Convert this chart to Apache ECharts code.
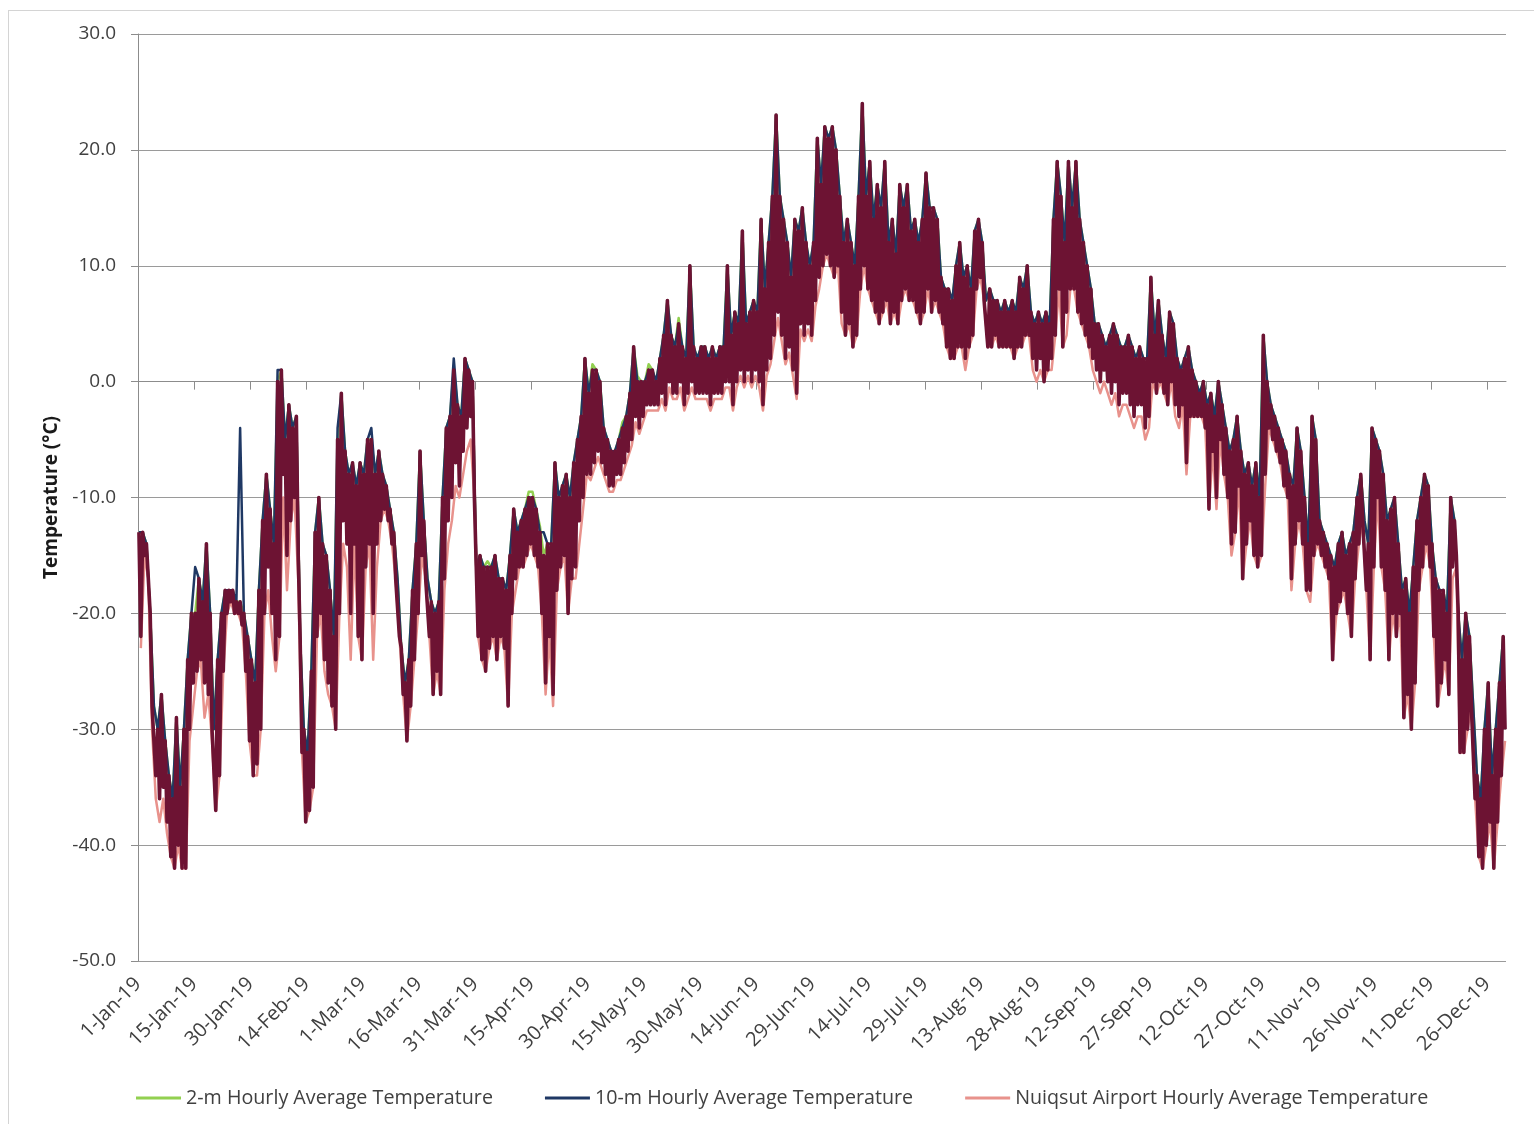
<!DOCTYPE html>
<html>
<head>
<meta charset="utf-8">
<title>Hourly Average Temperature 2019</title>
<script src="https://cdn.jsdelivr.net/npm/echarts@6.0.0/dist/echarts.min.js"></script>
<style>
  html, body { margin: 0; padding: 0; background: #fff; }
  #main { position: absolute; left: 0; top: 0; width: 1534px; height: 1124px; }
  #frame { position: absolute; left: 8px; top: 10px; width: 1540px; height: 1120px; border: 1px solid #d4d4d4; box-sizing: border-box; }
</style>
</head>
<body>
<div id="frame"></div>
<div id="main"></div>
<script>
// Axis tick labels, one every 15 days from the first day
const dateLabels = [
  "1-Jan-19", "15-Jan-19", "30-Jan-19", "14-Feb-19", "1-Mar-19", "16-Mar-19",
  "31-Mar-19", "15-Apr-19", "30-Apr-19", "15-May-19", "30-May-19", "14-Jun-19",
  "29-Jun-19", "14-Jul-19", "29-Jul-19", "13-Aug-19", "28-Aug-19", "12-Sep-19",
  "27-Sep-19", "12-Oct-19", "27-Oct-19", "11-Nov-19", "26-Nov-19", "11-Dec-19",
  "26-Dec-19"
];

// Dark red trace drawn on top (no legend entry): daily upper and lower values, °C
const bandHigh = [
  -13,-13,-14,-20,-28,-30,-27,-31,-34,-36,-29,-35,-30,-24,-20,-20,-17,-19,-14,-20,-30,-24,-20,-18,-18,-18,-19,-19,-20,-22,-24,
  -26,-18,-12,-8,-11,-14,0,1,-5,-2,-4,-3,-22,-30,-32,-25,-13,-10,-14,-15,-18,-22,-5,-1,-6,-8,-7,-9,
  -7,-8,-5,-5,-8,-6,-8,-9,-11,-13,-17,-23,-26,-24,-18,-14,-6,-12,-17,-19,-20,-19,-10,-4,-3,1,-2,-3,2,1,0,
  -16,-15,-16,-16,-16,-15,-17,-17,-18,-15,-11,-13,-12,-11,-10,-10,-11,-13,-15,-14,-14,-7,-10,-9,-8,-10,-7,-5,-3,2,
  -1,1,1,0,-4,-5,-6,-6,-5,-4,-3,-1,3,0,0,0,1,1,0,2,4,7,4,3,5,3,2,10,3,2,3,
  3,2,3,2,3,3,10,4,6,5,13,5,6,7,6,14,8,12,16,23,16,14,12,9,14,13,15,12,10,12,
  21,17,22,21,22,20,16,12,14,12,10,16,24,16,19,14,17,15,19,12,14,11,17,15,17,13,14,12,14,18,15,
  15,14,9,8,8,7,10,12,9,10,8,13,14,12,7,8,7,7,6,7,6,7,6,9,8,10,6,5,6,5,6,
  5,14,19,16,12,19,15,19,14,12,10,8,5,5,4,3,4,5,4,3,3,4,3,2,3,2,2,9,4,7,
  4,2,6,5,2,1,2,3,1,0,-1,0,-2,-1,-3,0,-2,-4,-6,-5,-3,-6,-8,-7,-9,-7,-10,4,0,-2,-3,
  -4,-5,-6,-8,-9,-4,-6,-10,-14,-3,-5,-12,-13,-14,-15,-16,-14,-13,-15,-14,-13,-10,-8,-12,-14,-4,-5,-6,-8,-12,
  -11,-10,-14,-18,-17,-20,-16,-12,-10,-8,-9,-14,-17,-18,-18,-20,-10,-12,-20,-24,-20,-22,-28,-34,-36,-30,-26,-34,-30,-26,-22
];
const bandLow = [
  -22,-15,-17,-28,-34,-36,-35,-38,-41,-42,-40,-42,-42,-30,-26,-25,-24,-26,-27,-30,-37,-34,-25,-20,-19,-20,-20,-21,-25,-31,-34,
  -33,-30,-20,-16,-20,-24,-22,-8,-15,-12,-10,-15,-32,-38,-37,-35,-22,-20,-24,-26,-28,-30,-20,-12,-14,-20,-14,-22,
  -24,-16,-14,-20,-14,-12,-11,-12,-14,-17,-22,-27,-31,-28,-24,-20,-15,-17,-22,-27,-25,-27,-17,-12,-10,-7,-9,-6,-4,-3,-10,
  -22,-24,-25,-23,-22,-24,-22,-23,-28,-20,-17,-16,-16,-15,-14,-15,-16,-20,-26,-22,-27,-18,-16,-15,-20,-17,-16,-12,-10,-8,
  -8,-7,-6,-7,-8,-9,-9,-8,-8,-7,-6,-5,-3,-4,-3,-2,-2,-2,-2,-1,-2,0,-1,-1,0,-2,-1,0,-1,-1,-1,
  -1,-2,-1,-1,-1,0,0,-2,0,1,0,1,0,1,0,-2,1,2,4,6,4,2,3,1,-1,5,4,5,4,7,
  9,10,11,10,9,10,6,4,5,3,4,8,10,8,7,6,5,6,7,5,6,5,7,8,7,7,6,5,6,8,6,
  7,6,5,3,2,2,3,3,2,3,4,8,9,7,3,3,4,3,3,3,3,2,3,3,4,4,2,1,2,0,1,
  2,4,8,3,6,8,8,6,5,4,3,2,1,0,1,0,-1,0,-2,-1,-1,-2,-3,-2,-2,-4,-3,0,-1,0,
  -1,-2,0,-2,-3,-2,-7,-3,-3,-3,-3,-4,-11,-6,-10,-5,-8,-10,-14,-13,-9,-17,-14,-12,-15,-16,-15,-8,-4,-5,-6,
  -7,-9,-10,-17,-14,-12,-14,-18,-18,-15,-14,-15,-16,-17,-24,-20,-19,-18,-20,-22,-17,-14,-12,-18,-24,-16,-10,-16,-18,-24,
  -20,-22,-20,-29,-27,-30,-26,-18,-16,-14,-16,-22,-28,-26,-24,-27,-16,-15,-32,-32,-30,-28,-36,-41,-42,-40,-38,-42,-38,-34,-30
];

// 2-m Hourly Average Temperature, one value per day (daily upper), °C
const twoM = [
  -13,-13,-14,-20,-28,-30,-27,-31,-34,-36,-29,-35,-30,-24,-20,-20,-17,-19,-14,-20,-30,-24,-20,-18,-18,-18,-19,-19,-20,-22,-24,
  -26,-18,-12,-8,-11,-14,0,1,-5,-2,-4,-3,-22,-30,-32,-25,-13,-10,-14,-15,-18,-22,-5,-1,-6,-8,-7,-9,
  -7,-8,-5,-5,-8,-6,-8,-9,-11,-13,-17,-23,-26,-24,-18,-14,-6,-12,-17,-19,-20,-19,-10,-4,-3,1,-2,-3,2,1,0,
  -16,-15,-16,-15.5,-16,-15,-17,-17,-18,-15,-11,-13,-12,-11,-9.5,-9.5,-11,-12.5,-15,-14,-14,-7,-10,-9,-8,-10,-7,-5,-3,2,
  -1,1.5,1,0,-4,-5,-6,-6,-5,-3.5,-3,-1,3,0.5,0,0,1.5,1,0,2,4,7,4,3,5.5,3,2,10,3,2,3,
  3,2,3,2,3,3,10,4,6,5,13,5,6,7,6,14,8,12,16,23,16,14,12,9,14,13,15,12,10,12,
  21,17,22,21,22,20,16,12,14,12,10,16,24,16,19,14,17,15,19,12,14,11,17,15,17,13,14,12,14,18,15,
  15,14,9,8,8,7,10,12,9,10,8,13,14,12,7,8,7,7,6,7,6,7,6,9,8,10,6,5,6,5,6,
  5,14,19,16,12,19,15,19,14,12,10,8,5,5,4,3,4,5,4,3,3,4,3,2,3,2,2,9,4,7,
  4,2,6,5,2,1,2,3,1,0,-1,0,-2,-1,-3,0,-2,-4,-6,-5,-3,-6,-8,-7,-9,-7,-10,4,0,-2,-3,
  -4,-5,-6,-8,-9,-4,-6,-10,-14,-3,-5,-12,-13,-14,-15,-16,-14,-13,-15,-14,-13,-10,-8,-12,-14,-4,-5,-6,-8,-12,
  -11,-10,-14,-18,-17,-20,-16,-12,-10,-8,-9,-14,-17,-18,-18,-20,-10,-12,-20,-24,-20,-22,-28,-34,-36,-30,-26,-34,-30,-26,-22
];

// 10-m Hourly Average Temperature, one value per day (daily upper), °C
const tenM = [
  -13,-13,-14,-20,-28,-30,-27,-31,-34,-36,-29,-35,-30,-24,-20,-16,-17,-19,-14,-20,-30,-24,-20,-18,-18,-18,-19,-4,-20,-22,-24,
  -26,-18,-12,-8,-11,-14,1,1,-5,-2,-4,-3,-22,-30,-32,-25,-13,-10,-14,-15,-18,-22,-4,-1,-6,-8,-7,-9,
  -7,-8,-5,-4,-8,-6,-8,-9,-11,-13,-17,-23,-26,-24,-18,-14,-6,-12,-17,-19,-20,-19,-10,-4,-3,2,-2,-3,2,1,0,
  -16,-15,-16,-16,-16,-15,-17,-17,-18,-15,-11,-13,-12,-11,-10,-10,-11,-13,-13,-14,-14,-7,-10,-9,-8,-10,-7,-5,-3,2,
  -1,1,1,0,-4,-5,-6,-6,-5,-4,-3,-1,3,0,0,0,1,1,0,2,4,7,4,3,5,3,2,10,3,2,3,
  3,2,3,2,3,3,10,4,6,5,13,5,6,7,6,14,8,12,16,23,16,14,12,9,14,13,15,12,10,12,
  21,17,22,21,22,20,16,12,14,12,10,16,24,16,19,14,17,15,19,12,14,11,17,15,17,13,14,12,14,18,15,
  15,14,9,8,8,7,10,12,9,10,8,13,14,12,7,8,7,7,6,7,6,7,6,9,8,10,6,5,6,5,6,
  5,14,19,16,12,19,15,19,14,12,10,8,5,5,4,3,4,5,4,3,3,4,3,2,3,2,2,9,4,7,
  4,2,6,5,2,1,2,3,1,0,-1,0,-2,-1,-3,0,-2,-4,-6,-5,-3,-6,-8,-7,-9,-7,-10,4,0,-2,-3,
  -4,-5,-6,-8,-9,-4,-6,-10,-14,-3,-5,-12,-13,-14,-15,-16,-14,-13,-15,-14,-13,-10,-8,-12,-14,-4,-5,-6,-8,-12,
  -11,-10,-14,-18,-17,-20,-16,-12,-10,-8,-9,-14,-17,-18,-18,-20,-10,-12,-20,-24,-20,-22,-28,-34,-36,-30,-26,-34,-30,-26,-22
];

// Nuiqsut Airport Hourly Average Temperature, one value per day (daily lower), °C
const nuiqsut = [
  -23,-15,-17,-30,-36,-38,-36,-39,-41,-42,-40,-42,-42,-31,-28,-25,-24,-29,-27,-31,-37,-34,-25,-20,-19,-20,-20,-21,-25,-31,-34,
  -34,-30,-20,-18,-22,-25,-22,-10,-18,-12,-10,-17,-32,-38,-37,-35,-22,-20,-25,-27,-28,-30,-20,-14,-16,-24,-14,-22,
  -24,-16,-14,-24,-16,-12,-11,-12,-14,-17,-22,-27,-31,-28,-24,-20,-15,-17,-22,-27,-25,-27,-18,-14,-12,-9,-10,-8,-6,-5,-10,
  -22,-24,-25,-23,-22,-24,-22,-23,-28,-20,-18,-16,-16,-15,-14,-15,-16,-20,-27,-22,-28,-18,-16,-15,-20,-17,-17,-14,-11,-8,
  -8.5,-7.5,-6.5,-7.5,-8.5,-9.5,-9.5,-8.5,-8.5,-7.5,-6.5,-5.5,-3.5,-4.5,-3.5,-2.5,-2.5,-2.5,-2.5,-1.5,-2.5,-0.5,-1.5,-1.5,-0.5,-2.5,-1.5,-0.5,-1.5,-1.5,-1.5,
  -1.5,-2.5,-1.5,-1.5,-1.5,-0.5,-0.5,-2.5,-0.5,0.5,-0.5,0.5,-0.5,0.5,-0.5,-2.5,0.5,1.5,3.5,5.5,3.5,1.5,2.5,0.5,-1.5,4.5,3.5,4.5,3.5,6.5,
  8,10,11,10,9,10,5,4,5,3,4,8,10,8,7,6,5,6,7,5,6,5,7,8,7,7,6,5,6,8,6,
  7,6,5,3,2,2,3,3,1,3,4,8,9,7,3,3,4,3,3,3,3,2,3,3,4,4,1,0,1,0,1,
  1,4,8,3,4,8,8,6,5,4,3,1,0,-1,0,-1,-2,-1,-3,-2,-2,-3,-4,-3,-3,-5,-4,0,-1,0,
  -1,-2,0,-3,-4,-2,-8,-3,-3,-3,-3,-4,-11,-6,-11,-5,-8,-10,-15,-13,-9,-17,-14,-12,-15,-16,-15,-9,-4,-5,-6,
  -7,-9,-10,-18,-14,-12,-14,-18,-19,-15,-14,-15,-16,-17,-24,-20,-19,-18,-20,-22,-17,-14,-12,-18,-24,-16,-10,-16,-18,-24,
  -20,-22,-20,-29,-27,-30,-26,-18,-16,-14,-16,-22,-28,-26,-24,-27,-17,-16,-32,-32,-30,-28,-36,-41,-42,-40,-38,-42,-38,-34,-31
];

const FONT = "Open Sans";
const TEXT = "#404040";
const AXIS = "#8c8c8c";

// day of year -> [x, value] pairs; upper values sit early in the day, lower values late
const atDay = (arr, offset) => arr.map((v, i) => [i + offset, v]);
const band = [];
bandHigh.forEach((v, i) => {
  band.push([i + 0.25, v]);
  band.push([i + 0.75, bandLow[i]]);
});
const tickDays = dateLabels.map((_, i) => i * 15);

function lineSeries(name, data, color, z, width) {
  return {
    name: name,
    type: "line",
    data: data,
    symbol: "none",
    z: z,
    silent: true,
    lineStyle: { color: color, width: width, join: "round" },
    itemStyle: { color: color },
  };
}

const chart = echarts.init(document.getElementById("main"));
chart.setOption({
  animation: false,
  backgroundColor: "transparent",
  textStyle: { fontFamily: FONT, color: TEXT },
  grid: { left: 138, right: 28, top: 34, bottom: 163, outerBoundsMode: "none" },
  legend: {
    data: [
      "2-m Hourly Average Temperature",
      "10-m Hourly Average Temperature",
      "Nuiqsut Airport Hourly Average Temperature",
    ],
    icon: "rect",
    left: 131,
    top: 1083,
    itemWidth: 45,
    itemHeight: 3,
    itemGap: 52,
    textStyle: { fontFamily: FONT, fontSize: 19.7, color: TEXT },
  },
  xAxis: {
    type: "value",
    min: 0,
    max: 365,
    axisLine: { show: true, lineStyle: { color: AXIS, width: 1 } },
    axisTick: { show: true, length: 8, customValues: tickDays, lineStyle: { color: AXIS } },
    axisLabel: {
      customValues: tickDays,
      rotate: 45,
      margin: 20,
      fontFamily: FONT,
      fontSize: 20,
      color: TEXT,
      formatter: (v) => dateLabels[Math.round(v / 15)],
    },
    splitLine: { show: false },
  },
  yAxis: {
    type: "value",
    min: -50,
    max: 30,
    interval: 10,
    name: "Temperature (°C)",
    nameLocation: "middle",
    nameGap: 76,
    nameTextStyle: { fontFamily: FONT, fontSize: 19, fontWeight: "bold", color: "#1a1a1a" },
    axisLine: { show: true, lineStyle: { color: AXIS, width: 1 } },
    axisTick: { show: true, length: 7, lineStyle: { color: AXIS } },
    axisLabel: {
      margin: 22,
      fontFamily: FONT,
      fontSize: 19,
      color: TEXT,
      formatter: (v) => v.toFixed(1),
    },
    splitLine: { show: true, lineStyle: { color: "#9a9a9a", width: 1 } },
  },
  series: [
    lineSeries("2-m Hourly Average Temperature", atDay(twoM, 0.25), "#92d050", 2, 2.5),
    lineSeries("10-m Hourly Average Temperature", atDay(tenM, 0.25), "#1f3864", 3, 2.5),
    lineSeries("Nuiqsut Airport Hourly Average Temperature", atDay(nuiqsut, 0.75), "#e8928c", 4, 2.5),
    lineSeries("Hourly Average Temperature", band, "#6d1333", 5, 3.6),
  ],
});
</script>
</body>
</html>
